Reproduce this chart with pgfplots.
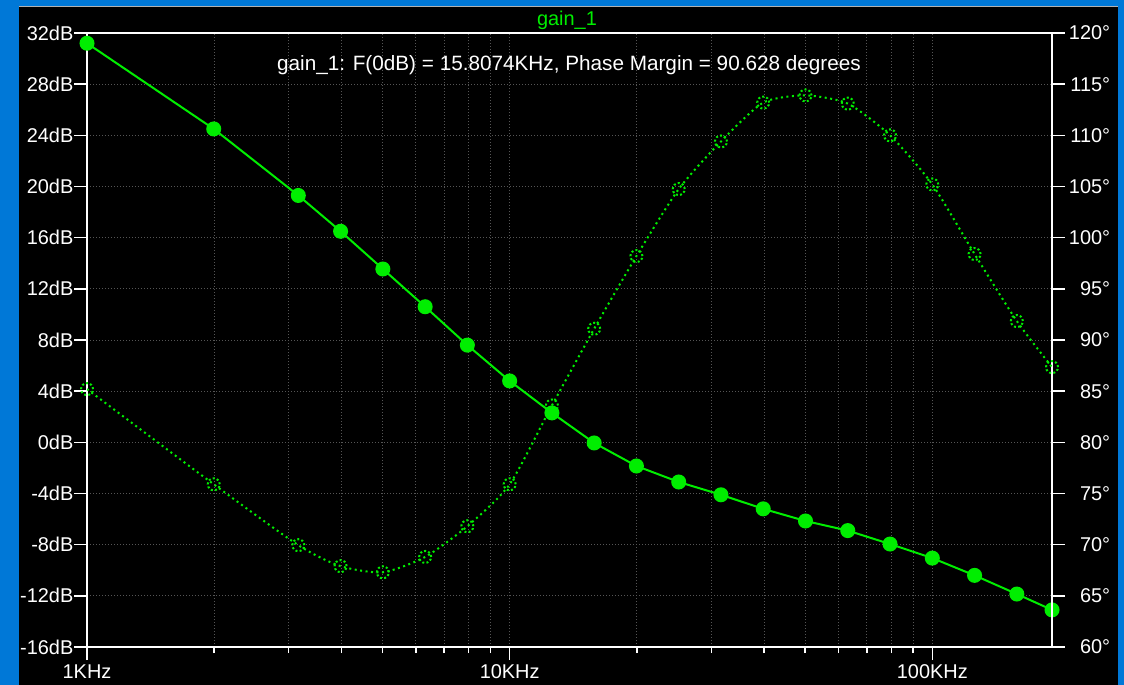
\documentclass[border=0pt]{standalone}
\usepackage{pgfplots}
\pgfplotsset{compat=1.18}
\usepackage{fontspec}
\setmainfont{Liberation Sans}

\definecolor{frameblue}{RGB}{0,120,215}
\definecolor{trace}{RGB}{0,238,0}
\definecolor{gridc}{RGB}{85,85,85}

\newcommand{\tickfont}{\fontsize{20}{21}\selectfont}

\begin{document}
\begin{tikzpicture}
\fill[frameblue] (-87bp,-38bp) rectangle (1037bp,647bp);
\fill[black] (-68bp,-38bp) rectangle (1031bp,641bp);
\draw[gray!60, line width=1bp] (-68bp,640.5bp) -- (1031bp,640.5bp);

% gain (left axis)
\begin{axis}[
  at={(0bp,0bp)}, anchor=south west,
  scale only axis, width=965bp, height=614bp,
  xmode=log, xmin=1000, xmax=192000,
  ymin=-16, ymax=32,
  tick align=outside,
  major tick length=13bp, minor tick length=6bp,
  every tick/.style={white, line width=1.5bp},
  axis line style={white, line width=1.5bp},
  tick label style={white, font=\tickfont},
  xtick pos=bottom, ytick pos=left,
  xtick={1000,10000,100000},
  xticklabels={1KHz,10KHz,100KHz},
  ytick={-16,-12,...,32},
  yticklabels={-16dB,-12dB,-8dB,-4dB,0dB,4dB,8dB,12dB,16dB,20dB,24dB,28dB,32dB},
  yticklabel style={inner xsep=0.5bp},
  xticklabel style={yshift=-1bp},
  grid=both,
  grid style={gridc, dash pattern=on 1bp off 2bp, line width=0.9bp},
  minor grid style={gridc, dash pattern=on 1bp off 2bp, line width=0.9bp},
]
\addplot[trace, line width=2bp, mark=*, mark size=6.5bp, mark options={fill=trace}] coordinates {
  (1000,31.2) (1995,24.5) (3162,19.3) (3981,16.5) (5012,13.55)
  (6310,10.6) (7943,7.6) (10000,4.8) (12589,2.3) (15849,-0.05)
  (19953,-1.85) (25119,-3.1) (31623,-4.1) (39811,-5.2) (50119,-6.15)
  (63096,-6.9) (79433,-7.95) (100000,-9.05) (125893,-10.4) (158489,-11.86)
  (192000,-13.1)
};
\end{axis}

% phase (right axis)
\begin{axis}[
  at={(0bp,0bp)}, anchor=south west,
  scale only axis, width=965bp, height=614bp,
  xmode=log, xmin=1000, xmax=192000,
  ymin=60, ymax=120,
  tick align=outside,
  major tick length=13bp, minor tick length=6bp,
  every tick/.style={white, line width=1.5bp},
  axis line style={white, line width=1.5bp},
  tick label style={white, font=\tickfont},
  axis x line=none,
  axis y line*=right,
  ytick={60,65,...,120},
  yticklabels={60°,65°,70°,75°,80°,85°,90°,95°,100°,105°,110°,115°,120°},
  yticklabel style={inner xsep=0bp, xshift=2bp, text width=43bp, align=right},
]
\addplot[trace, line width=2bp, dash pattern=on 2bp off 3.5bp, smooth, tension=0.4,
  mark=o, mark size=6bp, mark options={dash pattern=on 2bp off 2.2bp, line width=2bp}] coordinates {
  (1000,85.2) (1995,75.9) (3162,69.95) (3981,67.9) (5012,67.3)
  (6310,68.8) (7943,71.8) (10000,75.9) (12589,83.6) (15849,91.1)
  (19953,98.2) (25119,104.75) (31623,109.4) (39811,113.2) (50119,113.9)
  (63096,113.1) (79433,110.0) (100000,105.2) (125893,98.4) (158489,91.85)
  (192000,87.35)
};
\end{axis}

\node[trace, font=\fontsize{20}{21}\selectfont, anchor=base] at (480bp,621bp) {gain\_1};
\node[white, font=\fontsize{20.8}{22}\selectfont] at (482bp,582bp)
  {gain\_1: F(0dB) = 15.8074KHz, Phase Margin = 90.628 degrees};

\pgfresetboundingbox
\useasboundingbox (-87bp,-38bp) rectangle (1037bp,647bp);
\end{tikzpicture}
\end{document}
